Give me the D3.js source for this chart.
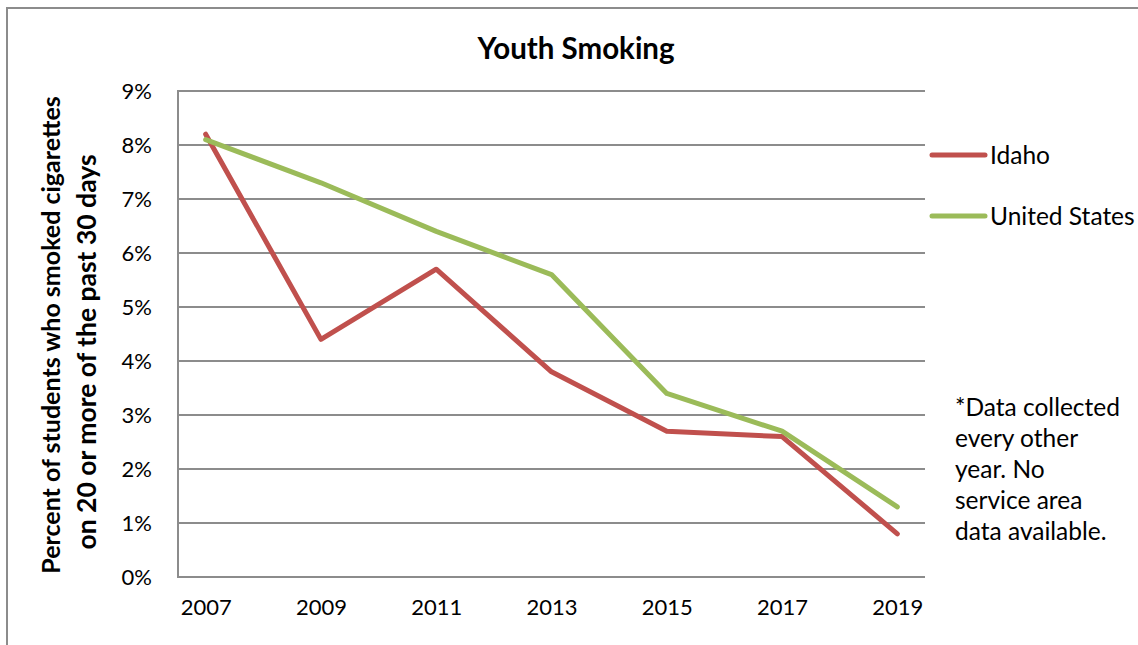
<!DOCTYPE html>
<html>
<head>
<meta charset="utf-8">
<script src="https://cdn.jsdelivr.net/npm/d3@7"></script>
<style>
  html, body { margin: 0; padding: 0; background: #fff; }
  svg { display: block; font-family: Lato, "Open Sans", sans-serif; }
</style>
</head>
<body>
<svg id="chart" width="1138" height="645"></svg>
<script>
const years = ["2007", "2009", "2011", "2013", "2015", "2017", "2019"];
const idaho = [8.2, 4.4, 5.7, 3.8, 2.7, 2.6, 0.8];
const unitedStates = [8.1, 7.3, 6.4, 5.6, 3.4, 2.7, 1.3];
const yTicks = [0, 1, 2, 3, 4, 5, 6, 7, 8, 9];
const seriesNames = ["Idaho", "United States"];
const seriesColors = ["#C0504D", "#9BBB59"];
const titleText = "Youth Smoking";
const yTitleLines = ["Percent of students who smoked cigarettes", "on 20 or more of the past 30 days"];
const noteLines = ["*Data collected", "every other", "year. No", "service area", "data available."];

const svg = d3.select("#chart");
const W = 1138, H = 645;
const plot = { left: 178, right: 925, top: 91, bottom: 577 };

// outer chart border
svg.append("rect")
  .attr("x", 7).attr("y", 8)
  .attr("width", W + 20).attr("height", H + 20)
  .attr("fill", "#fff").attr("stroke", "#8c8c8c").attr("stroke-width", 2);

const x = d3.scalePoint().domain(years).range([plot.left, plot.right]).padding(0.24);
const y = d3.scaleLinear().domain([0, 9]).range([plot.bottom, plot.top]);

// y tick labels
const yAxis = d3.axisLeft(y).tickValues(yTicks).tickSize(0).tickFormat(d => d + "%").tickPadding(26);
const gy = svg.append("g").attr("transform", `translate(${plot.left},0)`).call(yAxis);
gy.select(".domain").remove();
gy.selectAll("text").attr("font-size", 22).attr("fill", "#000").attr("font-family", "Lato");

// gridlines
svg.append("g").selectAll("line").data(yTicks).join("line")
  .attr("x1", plot.left).attr("x2", plot.right)
  .attr("y1", d => y(d)).attr("y2", d => y(d))
  .attr("stroke", "#8c8c8c").attr("stroke-width", 2);

// left axis line
svg.append("line")
  .attr("x1", plot.left).attr("x2", plot.left)
  .attr("y1", plot.top - 1).attr("y2", plot.bottom + 1)
  .attr("stroke", "#8c8c8c").attr("stroke-width", 2);

// x axis labels
const xAxis = d3.axisBottom(x).tickSize(0).tickPadding(22);
const gx = svg.append("g").attr("transform", `translate(0,${plot.bottom})`).call(xAxis);
gx.select(".domain").remove();
gx.selectAll("text").attr("font-size", 22).attr("fill", "#000").attr("font-family", "Lato");

// lines
const series = [idaho, unitedStates];
const line = d3.line().x((d, i) => x(years[i])).y(d => y(d));
series.forEach((vals, k) => {
  svg.append("path").datum(vals)
    .attr("d", line)
    .attr("fill", "none")
    .attr("stroke", seriesColors[k])
    .attr("stroke-width", 5)
    .attr("stroke-linecap", "round")
    .attr("stroke-linejoin", "round");
});

// title
svg.append("text")
  .attr("x", 576).attr("y", 59)
  .attr("text-anchor", "middle")
  .attr("font-size", 29.5).attr("font-weight", "bold")
  .text(titleText);

// y title
const yt = svg.append("text")
  .attr("transform", "rotate(-90)")
  .attr("text-anchor", "middle")
  .attr("font-weight", "bold");
yt.append("tspan").attr("x", -335).attr("y", 60).attr("font-size", 25).text(yTitleLines[0]);
yt.append("tspan").attr("x", -352).attr("y", 96).attr("font-size", 26.5).text(yTitleLines[1]);

// legend
const legendY = [155, 216];
seriesNames.forEach((name, k) => {
  svg.append("line")
    .attr("x1", 932).attr("x2", 985)
    .attr("y1", legendY[k]).attr("y2", legendY[k])
    .attr("stroke", seriesColors[k]).attr("stroke-width", 5)
    .attr("stroke-linecap", "round");
  svg.append("text")
    .attr("x", 990).attr("y", legendY[k])
    .attr("dy", "0.35em")
    .attr("font-size", 24.5)
    .text(name);
});

// note
const note = svg.append("text").attr("font-size", 24.5);
noteLines.forEach((t, i) => {
  note.append("tspan").attr("x", 955).attr("y", 407 + i * 31).attr("dy", "0.35em").text(t);
});
</script>
</body>
</html>
